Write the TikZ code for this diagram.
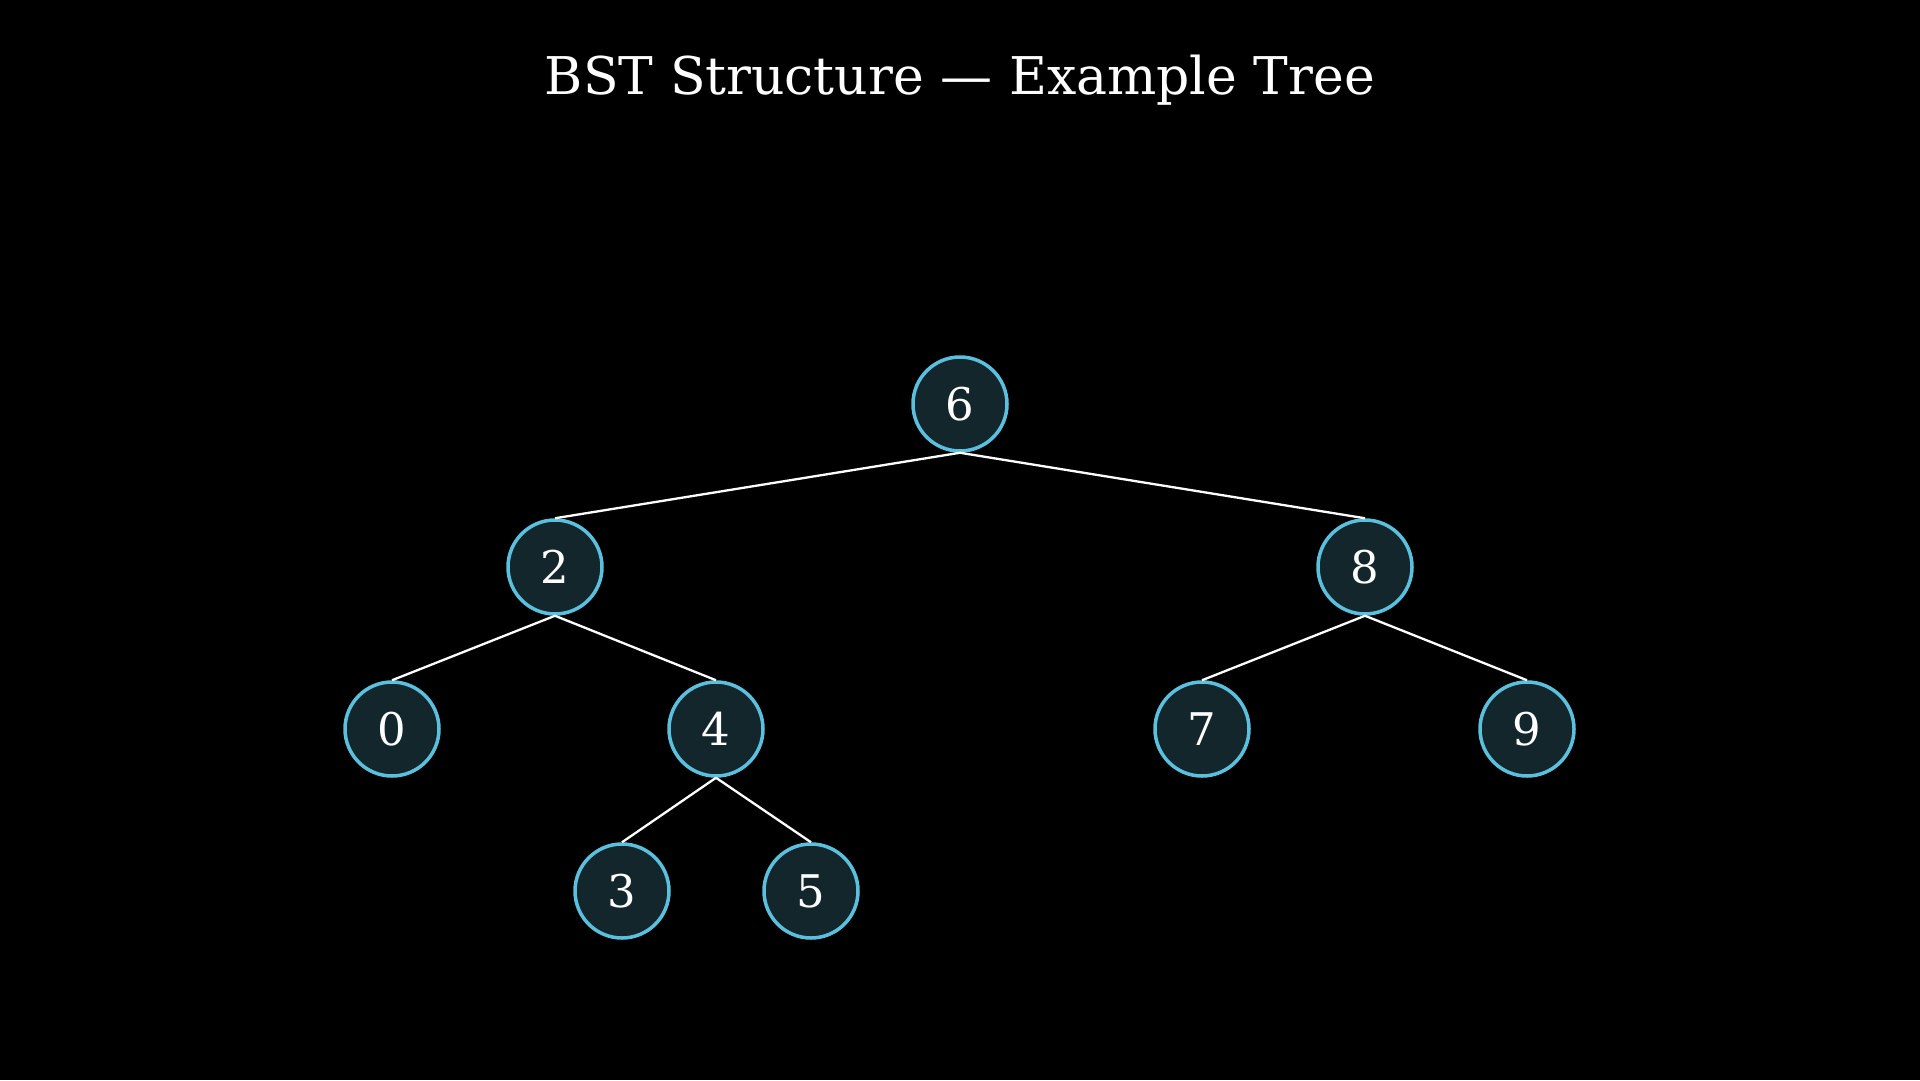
\documentclass[tikz,border=0pt]{standalone}
\usepackage{fontspec}
\setmainfont{DejaVu Serif}
\definecolor{bg}{HTML}{000000}
\definecolor{nodefill}{HTML}{12262C}
\definecolor{nodeline}{HTML}{5BC0DE}
\begin{document}
\begin{tikzpicture}[x=1pt,y=-1pt,
  bstnode/.style={circle, draw=nodeline, fill=nodefill, line width=3.5pt, minimum size=94pt, inner sep=0pt, text=white, font=\fontsize{45}{54}\selectfont},
  edge/.style={draw=white, line width=2.3pt}]
\fill[bg] (0,0) rectangle (1920,1080);
\useasboundingbox (0,0) rectangle (1920,1080);
\node[text=white, font=\fontsize{52}{62}\selectfont] (title) at (960,80) {BST Structure — Example Tree};
\node[bstnode] (n6) at (960,404) {6};
\node[bstnode] (n2) at (555,567) {2};
\node[bstnode] (n8) at (1365,567) {8};
\node[bstnode] (n0) at (392,729) {0};
\node[bstnode] (n4) at (716,729) {4};
\node[bstnode] (n7) at (1202,729) {7};
\node[bstnode] (n9) at (1527,729) {9};
\node[bstnode] (n3) at (622,891) {3};
\node[bstnode] (n5) at (811,891) {5};
\draw[edge] (n6.south) -- (n2.north);
\draw[edge] (n6.south) -- (n8.north);
\draw[edge] (n2.south) -- (n0.north);
\draw[edge] (n2.south) -- (n4.north);
\draw[edge] (n8.south) -- (n7.north);
\draw[edge] (n8.south) -- (n9.north);
\draw[edge] (n4.south) -- (n3.north);
\draw[edge] (n4.south) -- (n5.north);
\end{tikzpicture}
\end{document}
